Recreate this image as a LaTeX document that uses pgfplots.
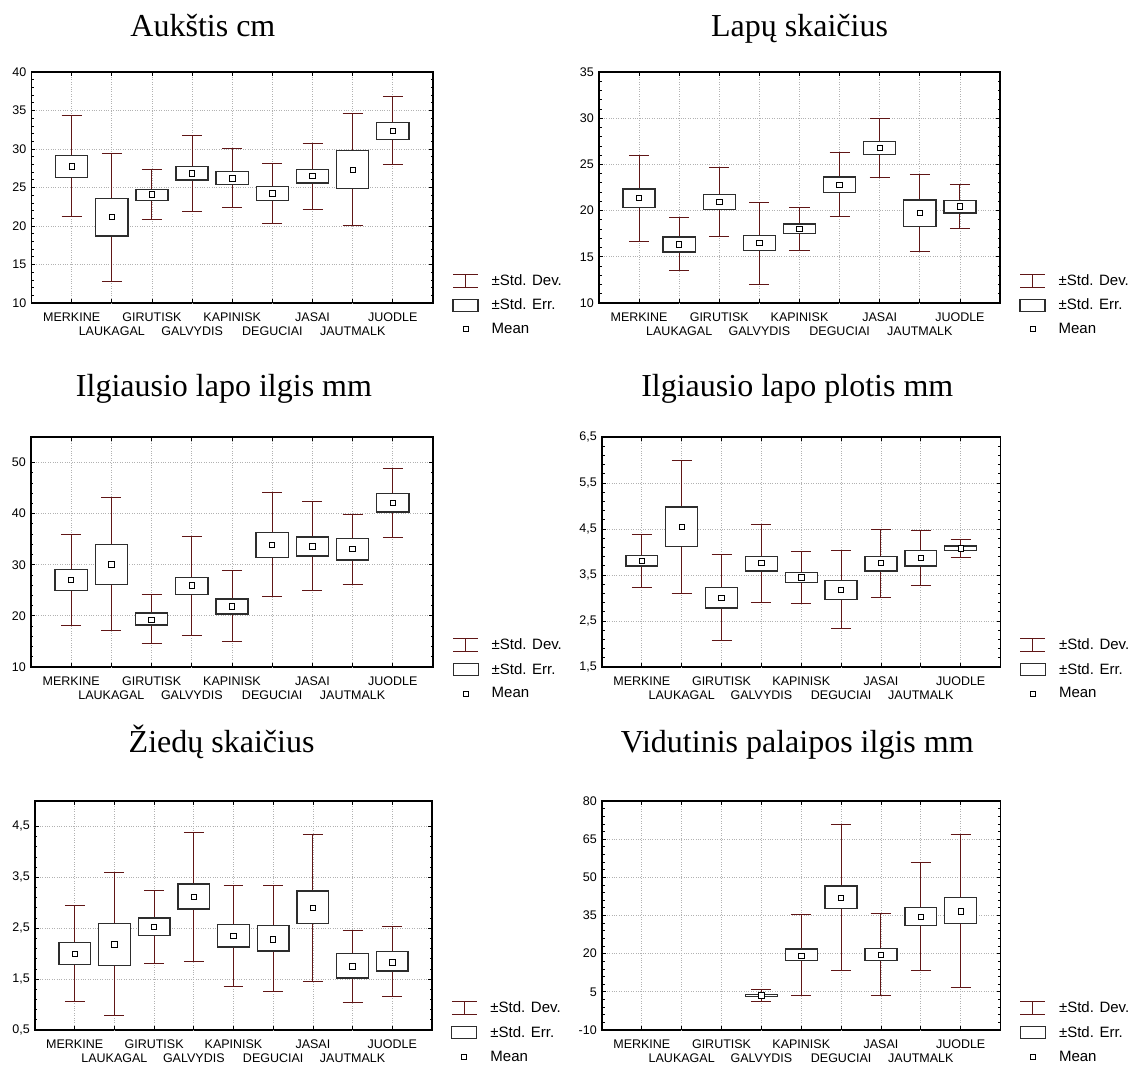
\documentclass[border=0pt]{standalone}
\usepackage{pgfplots}
\usepackage{pgfplotstable}
\pgfplotsset{compat=1.18}
\usepgfplotslibrary{statistics}
\usepackage{fontspec}
\setmainfont{Liberation Serif}
\newfontfamily\arial{Liberation Sans}
\definecolor{sdcol}{RGB}{96,22,22}
\definecolor{boxcol}{RGB}{45,45,45}

% columns: position, -SD, -SE, mean, +SE, +SD
\pgfplotstableread{
x wb bb mean bt wt
1 21.23 26.32 27.75 29.13 34.40
2 12.85 18.72 21.14 23.60 29.43
3 20.79 23.30 24.12 24.77 27.31
4 21.92 25.98 26.84 27.75 31.76
5 22.39 25.41 26.15 27.10 30.08
6 20.28 23.30 24.25 25.11 28.13
7 22.18 25.59 26.49 27.31 30.77
8 20.06 24.85 27.27 29.82 34.61
9 28.00 31.20 32.37 33.45 36.77
}\tA
\pgfplotstableread{
x wb bb mean bt wt
1 16.69 20.31 21.36 22.33 25.95
2 13.47 15.53 16.33 17.16 19.22
3 17.16 20.09 20.96 21.72 24.65
4 12.03 15.68 16.51 17.31 20.92
5 15.71 17.49 18.03 18.54 20.34
6 19.33 21.93 22.80 23.63 26.27
7 23.60 26.09 26.78 27.47 29.93
8 15.53 18.25 19.73 21.14 23.89
9 18.07 19.76 20.45 21.07 22.80
}\tB
\pgfplotstableread{
x wb bb mean bt wt
1 18.20 25.02 27.04 29.06 35.89
2 17.09 26.20 30.03 33.93 43.10
3 14.55 18.20 19.24 20.54 24.11
4 16.24 24.18 25.93 27.56 35.50
5 15.00 20.41 21.84 23.27 28.80
6 23.72 31.46 33.87 36.28 44.08
7 24.96 31.72 33.61 35.43 42.33
8 26.13 30.94 33.09 35.11 39.92
9 35.43 40.31 42.13 43.95 48.89
}\tC
\pgfplotstableread{
x wb bb mean bt wt
1 3.23 3.70 3.80 3.92 4.38
2 3.10 4.12 4.55 4.98 6.00
3 2.07 2.78 3.00 3.23 3.94
4 2.90 3.59 3.76 3.90 4.60
5 2.89 3.34 3.45 3.56 4.01
6 2.33 2.97 3.18 3.38 4.03
7 3.02 3.59 3.76 3.90 4.50
8 3.27 3.70 3.87 4.03 4.47
9 3.89 4.03 4.08 4.13 4.28
}\tD
\pgfplotstableread{
x wb bb mean bt wt
1 1.06 1.79 2.00 2.22 2.94
2 0.78 1.77 2.18 2.59 3.59
3 1.81 2.36 2.53 2.70 3.25
4 1.85 2.88 3.11 3.37 4.39
5 1.36 2.13 2.35 2.57 3.34
6 1.25 2.05 2.28 2.55 3.34
7 1.45 2.59 2.90 3.23 4.35
8 1.04 1.52 1.75 2.00 2.45
9 1.15 1.66 1.83 2.04 2.54
}\tE
\pgfplotstableread{
x wb bb mean bt wt
4 1.28 3.23 3.62 4.00 6.08
5 3.49 17.36 19.18 21.90 35.39
6 13.47 37.85 41.87 46.54 70.92
7 3.75 17.36 19.57 22.03 35.78
8 13.34 31.11 34.48 38.24 55.88
9 6.60 31.89 36.56 42.00 67.03
}\tF

\pgfplotsset{
  panel/.style={
    scale only axis,
    xmin=0, xmax=10,
    xtick={1,3,5,7,9},
    xticklabels={MERKINE,GIRUTISK,KAPINISK,JASAI,JUODLE},
    extra x ticks={2,4,6,8},
    extra x tick labels={LAUKAGAL,GALVYDIS,DEGUCIAI,JAUTMALK},
    extra x tick style={grid=major, xticklabel style={yshift=-14pt}},
    xmajorgrids, ymajorgrids,
    grid style={dotted, line width=0.8pt, gray!60},
    axis line style={line width=1.2pt, black},
    every tick/.style={black, line width=0.8pt},
    major tick length=4pt, minor tick length=2.5pt,
    minor y tick num=4,
    tick align=inside,
    tick label style={font=\arial\fontsize{12.5}{14}\selectfont},
    xticklabel style={inner sep=0pt, yshift=-10pt},
    yticklabel style={inner sep=0pt, xshift=-5pt},
    title style={font=\fontsize{32}{34}\selectfont, anchor=base, yshift=30pt},
    boxplot/draw direction=y,
    boxplot/box extend=0.8,
    boxplot/whisker extend=0.5,
    boxplot/every box/.style={draw=boxcol, fill=white, line width=1.4pt},
    boxplot/every whisker/.style={draw=sdcol, line width=1pt},
    boxplot/every median/.style={draw=none},
    legend style={draw=none, fill=none, at={(1.048,0.132)}, anchor=north west,
      font=\arial\fontsize{15}{15}\selectfont, row sep=8pt, inner sep=0pt,
      /tikz/every odd column/.append style={column sep=11pt}},
    legend cell align=left,
  },
  meanmark/.style={forget plot, only marks, mark=square*, mark size=2.7pt,
    mark options={fill=white, draw=black, line width=0.9pt}},
}

% one box (+-SE) with whiskers (+-SD) per table row
\newcommand{\drawboxes}[2]{%
  \pgfplotsinvokeforeach{0,...,#2}{%
    \pgfplotstablegetelem{##1}{x}\of#1\let\vx\pgfplotsretval
    \pgfplotstablegetelem{##1}{wb}\of#1\let\vwb\pgfplotsretval
    \pgfplotstablegetelem{##1}{bb}\of#1\let\vbb\pgfplotsretval
    \pgfplotstablegetelem{##1}{mean}\of#1\let\vm\pgfplotsretval
    \pgfplotstablegetelem{##1}{bt}\of#1\let\vbt\pgfplotsretval
    \pgfplotstablegetelem{##1}{wt}\of#1\let\vwt\pgfplotsretval
    \edef\doplot{\noexpand\addplot[forget plot, boxplot prepared={draw position=\vx,
      lower whisker=\vwb, lower quartile=\vbb, median=\vm,
      upper quartile=\vbt, upper whisker=\vwt}] coordinates {};}%
    \doplot
  }%
  \addplot[meanmark] table[x=x, y=mean] {#1};
}

\newcommand{\legendimages}{%
  \addlegendimage{legend image code/.code={
    \draw[sdcol, line width=1.1pt] (12.5pt,-6.5pt) -- (12.5pt,6.5pt)
      (0pt,6.5pt) -- (25pt,6.5pt) (0pt,-6.5pt) -- (25pt,-6.5pt);}}
  \addlegendimage{legend image code/.code={
    \draw[boxcol, fill=white, line width=1.2pt] (0pt,-6pt) rectangle (25pt,6pt);}}
  \addlegendimage{legend image code/.code={
    \draw[black, fill=white, line width=0.9pt] (10pt,-2.5pt) rectangle (15pt,2.5pt);}}
  \legend{±Std. Dev.,±Std. Err.,Mean}
}

\begin{document}
\begin{tikzpicture}
\useasboundingbox (0,0) rectangle (1132pt,-1065pt);

% Panel 1
\begin{axis}[panel, at={(31.5pt,-303pt)}, anchor=south west,
  width=401.5pt, height=231pt, title={Aukštis cm},
  title style={at={(0.427,1)}},
  ymin=10, ymax=40, ytick={10,15,...,40},
  yticklabels={10,15,20,25,30,35,40}]
\drawboxes{\tA}{8}
\legendimages
\end{axis}

% Panel 2
\begin{axis}[panel, at={(599pt,-303pt)}, anchor=south west,
  width=401pt, height=231pt, title={Lapų skaičius},
  title style={at={(0.5,1)}},
  ymin=10, ymax=35, ytick={10,15,...,35},
  yticklabels={10,15,20,25,30,35}]
\drawboxes{\tB}{8}
\legendimages
\end{axis}

% Panel 3
\begin{axis}[panel, at={(31pt,-667pt)}, anchor=south west,
  width=402pt, height=230pt, title={Ilgiausio lapo ilgis mm},
  title style={at={(0.48,1)}, yshift=5pt},
  ymin=10, ymax=55, ytick={10,20,...,50},
  yticklabels={10,20,30,40,50}]
\drawboxes{\tC}{8}
\legendimages
\end{axis}

% Panel 4
\begin{axis}[panel, at={(602pt,-667pt)}, anchor=south west,
  width=398.5pt, height=230pt, title={Ilgiausio lapo plotis mm},
  title style={at={(0.49,1)}, yshift=5pt},
  ymin=1.5, ymax=6.5, ytick={1.5,2.5,...,6.5},
  yticklabels={{1,5},{2,5},{3,5},{4,5},{5,5},{6,5}}]
\drawboxes{\tD}{8}
\legendimages
\end{axis}

% Panel 5
\begin{axis}[panel, at={(35pt,-1030pt)}, anchor=south west,
  width=397pt, height=229pt, title={Žiedų skaičius},
  title style={at={(0.47,1)}, yshift=13pt},
  ymin=0.5, ymax=5, ytick={0.5,1.5,...,4.5},
  yticklabels={{0,5},{1,5},{2,5},{3,5},{4,5}}]
\drawboxes{\tE}{8}
\legendimages
\end{axis}

% Panel 6
\begin{axis}[panel, at={(602pt,-1030pt)}, anchor=south west,
  width=398.5pt, height=229pt, title={Vidutinis palaipos ilgis mm},
  title style={at={(0.49,1)}, yshift=13pt},
  ymin=-10, ymax=80, ytick={-10,5,...,80},
  yticklabels={-10,5,20,35,50,65,80}]
\drawboxes{\tF}{5}
\legendimages
\end{axis}

\end{tikzpicture}
\end{document}
